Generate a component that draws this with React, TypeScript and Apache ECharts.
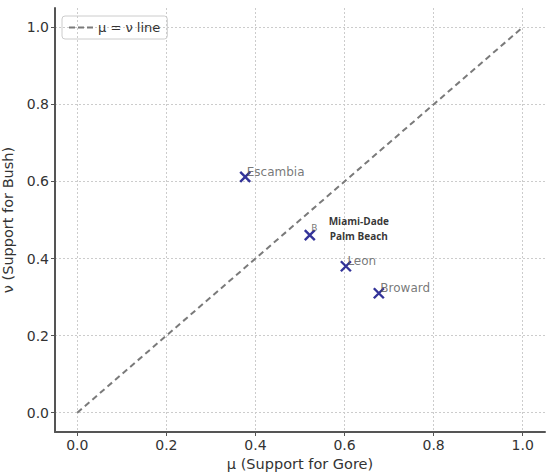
import React, { useEffect, useRef } from "react";
import * as echarts from "echarts";

const counties = ["Escambia", "Miami-Dade / Palm Beach", "Leon", "Broward"];
const mu = [0.377, 0.522, 0.603, 0.677];
const nu = [0.612, 0.461, 0.38, 0.31];
const pointLabels = ["Escambia", "B", "Leon", "Broward"];
const tickValues = [0, 0.2, 0.4, 0.6, 0.8, 1.0];
const diagLine = [[0, 0], [1, 1]];
const annotationText = "Miami-Dade\nPalm Beach";
const annotationIndex = 1;

const FONT = "DejaVu Sans";

export default function App() {
  const ref = useRef<HTMLDivElement>(null);
  useEffect(() => {
    document.body.style.margin = "0";
    const chart = echarts.init(ref.current!, null, { renderer: "svg" });
    const axisCommon = {
      min: -0.05,
      max: 1.05,
      axisLine: { show: true, onZero: false, lineStyle: { color: "#555", width: 2 } },
      axisTick: { show: true, customValues: tickValues, length: 4, lineStyle: { color: "#555" } },
      axisLabel: {
        customValues: tickValues,
        formatter: (v: number) => v.toFixed(1),
        color: "#333",
        fontSize: 14,
        margin: 6,
        fontFamily: FONT,
      },
      splitLine: { show: true, lineStyle: { color: "#ccc", type: [2, 2], width: 1 } },
      nameLocation: "middle",
      nameTextStyle: { color: "#333", fontSize: 14.5, fontFamily: FONT },
    };
    chart.setOption({
      animation: false,
      backgroundColor: "#fff",
      grid: { left: 55, right: 5, top: 8, bottom: 42, outerBoundsMode: "none", containLabel: false },
      legend: {
        left: 62,
        top: 16,
        data: [
          {
            name: "μ = ν line",
            icon: "path://M0,4h6v2h-6z M9,4h6v2h-6z M18,4h6v2h-6z",
            itemStyle: { color: "#7a7a7a" },
          },
        ],
        borderColor: "#ccc",
        borderWidth: 1,
        borderRadius: 3,
        padding: [5, 7],
        itemWidth: 24,
        itemHeight: 2,
        itemGap: 6,
        textStyle: { color: "#333", fontSize: 13, fontFamily: FONT },
      },
      xAxis: {
        ...axisCommon,
        type: "value",
        name: "μ (Support for Gore)",
        nameGap: 20,
      },
      yAxis: {
        ...axisCommon,
        type: "value",
        name: "ν (Support for Bush)",
        nameGap: 34,
      },
      series: [
        {
          name: "μ = ν line",
          type: "line",
          data: diagLine,
          symbol: "none",
          lineStyle: { color: "#7a7a7a", width: 2, type: [6, 4] },
          z: 2,
        },
        {
          name: "counties",
          type: "scatter",
          data: mu.map((m, i) => ({
            value: [m, nu[i]],
            name: counties[i],
            label: i === annotationIndex ? { fontSize: 9, offset: [0, -7] } : undefined,
          })),
          symbol: "path://M0,0 L10,10 M10,0 L0,10",
          symbolSize: 10,
          itemStyle: { color: "none", borderColor: "#000080", borderWidth: 2.4 },
          label: {
            show: true,
            position: "right",
            distance: -6,
            offset: [0, -5],
            formatter: (p: any) => pointLabels[p.dataIndex],
            color: "#555",
            fontSize: 12,
            fontFamily: FONT,
          },
          z: 3,
        },
        {
          name: "annotation",
          type: "scatter",
          data: [[mu[annotationIndex], nu[annotationIndex]]],
          symbol: "circle",
          symbolSize: 1,
          itemStyle: { color: "rgba(0,0,0,0)" },
          label: {
            show: true,
            position: "inside",
            offset: [49, -7],
            formatter: annotationText,
            color: "#000",
            fontWeight: "bold",
            fontSize: 10,
            lineHeight: 15,
            align: "center",
            fontFamily: "Open Sans",
          },
          z: 4,
        },
      ],
    });
    return () => chart.dispose();
  }, []);
  return <div ref={ref} style={{ width: 550, height: 474 }} />;
}
